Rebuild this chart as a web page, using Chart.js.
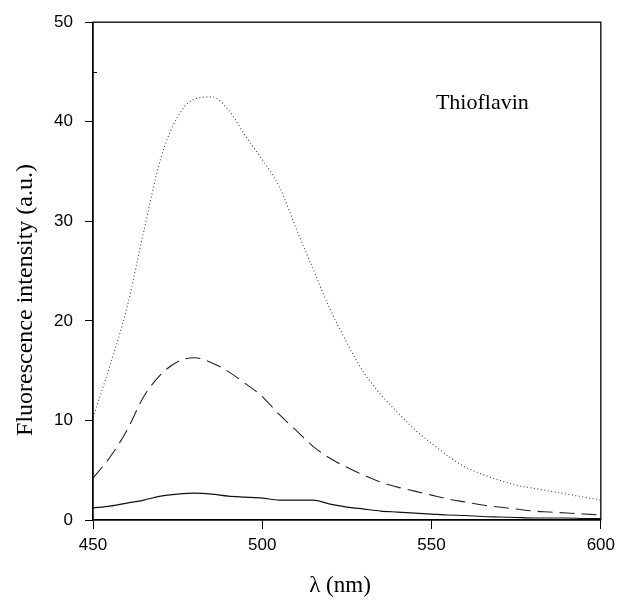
<!DOCTYPE html>
<html>
<head>
<meta charset="utf-8">
<script src="https://cdn.jsdelivr.net/npm/chart.js@4/dist/chart.umd.min.js"></script>
<style>
html,body{margin:0;padding:0;background:#fff;}
#wrap{width:621px;height:603px;position:relative;}
</style>
</head>
<body>
<div id="wrap"><canvas id="c" width="621" height="603"></canvas></div>
<script>
const wavelengths = [450,455,460,465,470,475,480,485,490,495,500,505,510,515,520,525,530,535,540,545,550,555,560,565,570,575,580,585,590,595,600];
const dotted = [10.3,15.5,21.3,29,36.3,40.5,42.3,42.5,41.2,38.6,36.2,33.5,29.3,25.2,21.2,17.8,14.8,12.6,10.8,9.1,7.7,6.4,5.3,4.6,4.0,3.5,3.2,2.9,2.6,2.3,2.0];
const dashed = [4.2,6.3,9.0,12.4,14.6,15.9,16.3,15.8,14.9,13.7,12.4,10.6,9.0,7.4,6.2,5.3,4.5,3.8,3.3,2.9,2.5,2.1,1.8,1.5,1.3,1.1,0.9,0.8,0.7,0.6,0.5];
const solid = [1.2,1.4,1.7,2.0,2.4,2.6,2.7,2.6,2.4,2.3,2.2,2.0,2.0,2.0,1.6,1.3,1.1,0.9,0.8,0.7,0.6,0.5,0.45,0.35,0.3,0.25,0.2,0.2,0.2,0.15,0.15];
const xTicks = [450,500,550,600];
const yTicks = [0,10,20,30,40,50];
const annotation = "Thioflavin";
const xTitle = "λ (nm)";
const yTitle = "Fluorescence intensity (a.u.)";

const pts = arr => wavelengths.map((w,i)=>({x:w,y:arr[i]}));

const framePlugin = {
  id:'frame',
  afterDatasetsDraw(chart){
    const {ctx, chartArea:a, scales:{x,y}} = chart;
    ctx.save();
    ctx.strokeStyle='#000';
    ctx.lineWidth=1.3;
    ctx.strokeRect(a.left, a.top, a.right-a.left, a.bottom-a.top);
    ctx.lineWidth=1;
    const py=Math.round(y.getPixelForValue(45))+0.5;
    ctx.beginPath(); ctx.moveTo(a.left,py); ctx.lineTo(a.left+4,py); ctx.stroke();
    ctx.fillStyle='#000';
    ctx.textAlign='center';
    ctx.textBaseline='middle';
    ctx.font='22px "Liberation Serif", serif';
    ctx.fillText(annotation, x.getPixelForValue(565), y.getPixelForValue(41.9));
    ctx.font='23px "Liberation Serif", serif';
    ctx.fillText(xTitle, 340, 586);
    ctx.translate(26, 300);
    ctx.rotate(-Math.PI/2);
    ctx.font='24px "Liberation Serif", serif';
    ctx.fillText(yTitle, 0, 0);
    ctx.restore();
  }
};

new Chart(document.getElementById('c'), {
  type:'line',
  data:{
    datasets:[
      {data:pts(dotted), borderColor:'#444', borderWidth:1.1, borderDash:[1,2.5], pointRadius:0, cubicInterpolationMode:'monotone', fill:false},
      {data:pts(dashed), borderColor:'#222', borderWidth:1.1, borderDash:[15,7], pointRadius:0, cubicInterpolationMode:'monotone', fill:false},
      {data:pts(solid), borderColor:'#111', borderWidth:1.2, pointRadius:0, cubicInterpolationMode:'monotone', fill:false}
    ]
  },
  options:{
    responsive:false,
    animation:false,
    devicePixelRatio:1,
    layout:{padding:{left:0,right:13,top:20,bottom:0}},
    plugins:{legend:{display:false}, tooltip:{enabled:false}},
    scales:{
      x:{
        type:'linear', min:450, max:600,
        afterBuildTicks(s){ s.ticks = xTicks.map(v=>({value:v})); },
        afterFit(s){ s.height = 83; },
        grid:{drawOnChartArea:false, drawTicks:true, tickLength:9, color:'#000', lineWidth:1},
        border:{display:true, color:'#000', width:1.3},
        ticks:{color:'#000', font:{family:'"Liberation Sans", Arial, sans-serif', size:17}, padding:6, maxRotation:0}
      },
      y:{
        min:0, max:50,
        afterBuildTicks(s){ s.ticks = yTicks.map(v=>({value:v})); },
        afterFit(s){ s.width = 93; },
        grid:{drawOnChartArea:false, drawTicks:true, tickLength:8, color:'#000', lineWidth:1},
        border:{display:true, color:'#000', width:1.3},
        ticks:{color:'#000', font:{family:'"Liberation Sans", Arial, sans-serif', size:17}, padding:12}
      }
    }
  },
  plugins:[framePlugin]
});
</script>
</body>
</html>
